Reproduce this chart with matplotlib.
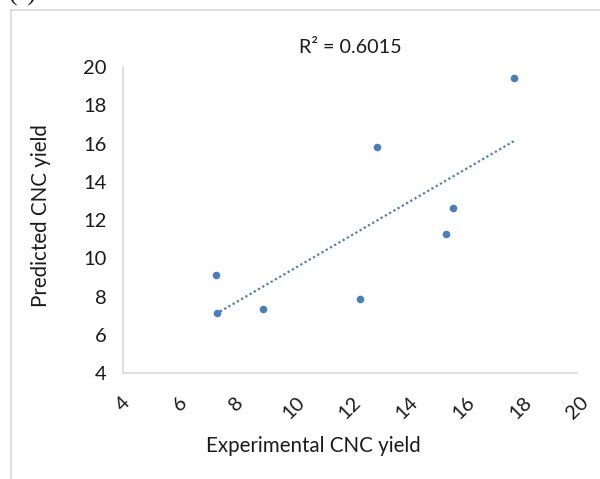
import numpy as np
import matplotlib.pyplot as plt
import matplotlib.transforms as mtransforms
from matplotlib.lines import Line2D

# experimental vs predicted CNC yield
experimental = [7.27, 7.32, 8.92, 12.34, 12.96, 15.38, 15.63, 17.77]
predicted = [9.11, 7.14, 7.35, 7.87, 15.83, 11.25, 12.61, 19.44]
r2_label = "R² = 0.6015"
ticks = [4, 6, 8, 10, 12, 14, 16, 18, 20]

plt.rcParams['font.family'] = ['Lato', 'DejaVu Sans']

fig = plt.figure(figsize=(6.0, 4.79), dpi=100)
ax = fig.add_axes([0.205, 0.2213, 0.7567, 0.6388])

blue = '#4a7ebb'
ax.scatter(experimental, predicted, s=30, color=blue, zorder=3, linewidths=0)

# linear trendline across the data range
slope, intercept = np.polyfit(experimental, predicted, 1)
xs = np.array([min(experimental), max(experimental)])
ax.plot(xs, slope * xs + intercept, linestyle=(0, (1, 1.2)), color=blue, linewidth=1.6)

ax.set_xlim(4, 20)
ax.set_ylim(4, 20)
ax.set_xticks(ticks)
ax.set_yticks(ticks)
ax.set_xticklabels([str(t) for t in ticks], rotation=45, ha='center', va='top')
shift = mtransforms.ScaledTranslation(-6 / 100, 0, fig.dpi_scale_trans)
for lab in ax.get_xticklabels():
    lab.set_transform(lab.get_transform() + shift)
ax.tick_params(axis='both', length=0, labelsize=14.5, colors='#1a1a1a')
ax.tick_params(axis='x', pad=15)
ax.tick_params(axis='y', pad=12)

for side in ['top', 'right']:
    ax.spines[side].set_visible(False)
for side in ['left', 'bottom']:
    ax.spines[side].set_color('#d9d9d9')
    ax.spines[side].set_linewidth(1.2)

ax.set_xlabel("Experimental CNC yield", fontsize=14.8, color='#1a1a1a')
ax.set_ylabel("Predicted CNC yield", fontsize=14.8, color='#1a1a1a')
ax.xaxis.set_label_coords((313 - 123) / 454, (373 - 436) / 306)
ax.yaxis.set_label_coords((51 - 123) / 454, (373 - 216) / 306)
ax.text(0.5, 1.065, r2_label, transform=ax.transAxes, ha='center', va='center',
        fontsize=14.2, color='#1a1a1a')

# outer chart frame and panel tag (the tag is cut by the top edge, as in the source)
frame_color = '#d9d9d9'
fig.add_artist(Line2D([11 / 600, 11 / 600], [0, 1 - 10 / 479], transform=fig.transFigure,
                      color=frame_color, linewidth=1.2))
fig.add_artist(Line2D([11 / 600, 1], [1 - 10 / 479, 1 - 10 / 479], transform=fig.transFigure,
                      color=frame_color, linewidth=1.2))
fig.text(9 / 600, 1 - 1 / 479, "(c)", ha='left', va='baseline', fontsize=18,
         family='Liberation Serif', color='#111111')

fig.savefig("out.png", dpi=100)
